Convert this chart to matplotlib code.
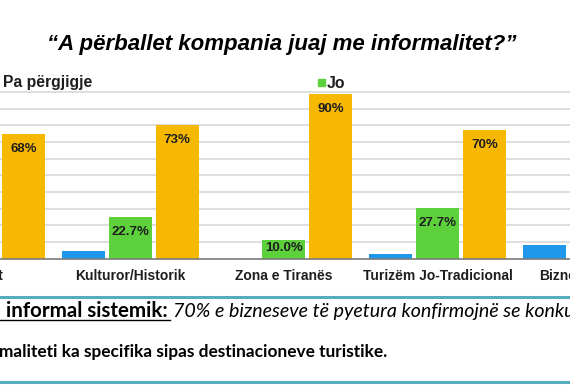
import matplotlib
matplotlib.use("Agg")
import matplotlib.pyplot as plt
import numpy as np
from matplotlib.lines import Line2D
from matplotlib.patches import Rectangle

# ---- data ----
categories = ["Bregdet", "Kulturor/Historik", "Zona e Tiranës", "Turizëm Jo-Tradicional", "Biznes/Kongres"]
series_names = ["Pa përgjigje", "Jo", "Po"]
pa_pergjigje = [0.040, 0.043, 0.000, 0.023, 0.075]
jo = [0.280, 0.227, 0.100, 0.277, 0.244]
po = [0.680, 0.730, 0.900, 0.700, 0.681]
label_formats = [None, "{:.1%}", "{:.0%}"]
title = "“A përballet kompania juaj me informalitet?”"
note1_bold = "informal sistemik:"
note1_italic = "70% e bizneseve të pyetura konfirmojnë se konkurrenca informale"
note2 = "maliteti ka specifika sipas destinacioneve turistike."

colors = ["#1f97ea", "#5cd13c", "#f6b800"]
text_col = "#1e1e1e"

W, H = 570, 390
fig = plt.figure(figsize=(W / 100, H / 100), dpi=100)
fig.patch.set_facecolor("white")

def fx(px):
    return px / W

def fy(py):
    return (H - py) / H

# axes: baseline at y=258.5px, 183 px per unit
base_px = 258.5
ppu = 183.0
ymax = 0.92
ax = fig.add_axes([0, fy(base_px), 1, ymax * ppu / H])
pitch = 153.7
a = -23.5

x = np.arange(len(categories))
bw = 43 / pitch
off = 47 / pitch
all_series = [pa_pergjigje, jo, po]
for k, vals in enumerate(all_series):
    pos = x + (k - 1) * off
    ax.bar(pos, vals, width=bw, color=colors[k], zorder=3)
    fmt = label_formats[k]
    if fmt is None:
        continue
    for xi, v in zip(pos, vals):
        pad_px = 9 if v >= 0.15 else 1.5
        ax.annotate(fmt.format(v), (xi, v), xytext=(0, -pad_px * 0.72),
                    textcoords="offset points", ha="center", va="top",
                    fontsize=9.5, fontweight="bold", color=text_col,
                    family="Liberation Sans", zorder=4, clip_on=True)

grid_vals = np.arange(1, 11) * 0.091
for g in grid_vals:
    ax.axhline(g, color="#d4d4d4", lw=1.1, zorder=1)
for s in ["top", "left", "right"]:
    ax.spines[s].set_visible(False)
ax.spines["bottom"].set_color("#7a7a7a")
ax.spines["bottom"].set_linewidth(1.2)
ax.spines["bottom"].set_zorder(5)
ax.set_yticks([])
ax.set_xticks([])
ax.set_facecolor("none")
ax.set_ylim(0, ymax)
ax.set_xlim((0 - a) / pitch, (W - a) / pitch)

# category labels (drawn as text so partly visible ones at the edges still show)
for xi, cat in zip(x, categories):
    ax.annotate(cat, xy=(xi, 0), xycoords=("data", "axes fraction"),
                xytext=(0, -7.6), textcoords="offset points", ha="center", va="top",
                fontsize=10, fontweight="bold", color=text_col,
                family="Liberation Sans", annotation_clip=False)

# title
fig.text(fx(47), fy(50), title, ha="left", va="baseline", fontsize=16,
         fontweight="bold", fontstyle="italic", family="Liberation Sans", color="black")

# legend (cropped, as in reference)
fig.text(fx(3), fy(87.5), series_names[0], ha="left", va="baseline", fontsize=11.3,
         fontweight="bold", family="Liberation Sans", color=text_col)
fig.patches.append(Rectangle((fx(318), fy(86)), fx(7), 7 / H, transform=fig.transFigure,
                             color=colors[1], figure=fig))
fig.text(fx(327), fy(87.5), series_names[1], ha="left", va="baseline", fontsize=11.3,
         fontweight="bold", family="Liberation Sans", color=text_col)

# bottom notes with teal rules
teal = "#57abbf"
for yy in (296.7, 381.7):
    fig.add_artist(Line2D([0, 1], [fy(yy), fy(yy)], color=teal, lw=2.2,
                          transform=fig.transFigure))

t1 = fig.text(fx(6), fy(317), note1_bold, ha="left", va="baseline", fontsize=14.8,
              fontweight="bold", family="Lato", color="black")
fig.canvas.draw()
r = fig.canvas.get_renderer()
bb = t1.get_window_extent(r)
ul_y = fy(319.5)
fig.add_artist(Line2D([0, bb.x1 / W + 2 / W], [ul_y, ul_y], color="black",
                      lw=1.0, transform=fig.transFigure))
fig.text(bb.x1 / W + 5 / W, fy(317), note1_italic, ha="left", va="baseline",
         fontsize=14.1, fontstyle="italic", family="Lato", color="black")
fig.text(fx(-1), fy(357.5), note2, ha="left", va="baseline", fontsize=12.4,
         fontweight="bold", family="Lato", color="black")

fig.savefig("out.png", dpi=100, facecolor="white")
